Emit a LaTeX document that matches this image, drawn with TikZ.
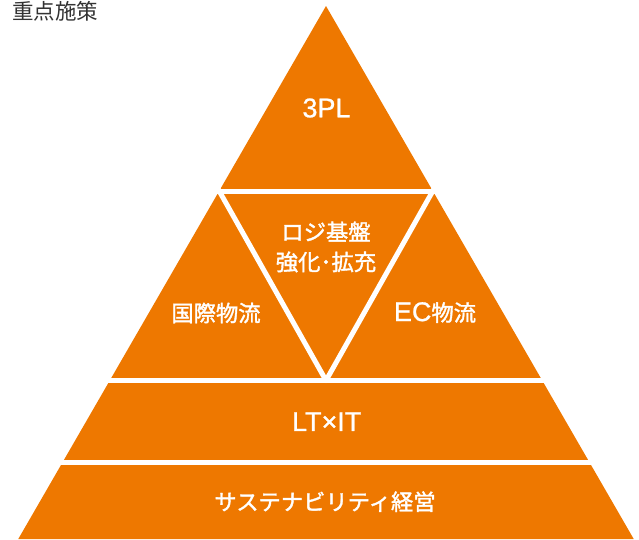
\documentclass[tikz,border=0pt]{standalone}
\usepackage{fontspec}
\usetikzlibrary{calc}
\setmainfont{Liberation Sans}
\newfontfamily\jpfont[FakeBold=1.6]{Noto Sans CJK JP}
\newfontfamily\jptitle{Noto Sans CJK JP}
\newfontfamily\latfont[FakeBold=0.8]{Liberation Sans}
\definecolor{kaki}{HTML}{EE7800}
\definecolor{sumi}{HTML}{333333}
\newcommand{\lat}[1]{{\latfont\fontsize{27}{30}\selectfont #1}}

\begin{document}
\begin{tikzpicture}[x=1pt,y=-1pt,
	gap/.style={white,line width=5pt,line join=round},
	stage/.style={text=white,font=\jpfont\fontsize{22.3}{30}\selectfont,align=center,inner sep=0pt}]
	\useasboundingbox (0,0) rectangle (639,539);
	\coordinate (apex) at (326,6);
	\coordinate (bl) at (18.27,539);
	\coordinate (br) at (633.73,539);
	\coordinate (ml) at (219.2,191);
	\coordinate (mr) at (432.8,191);
	\coordinate (mb) at (326,380.5);
	\fill[kaki] (apex)--(bl)--(br)--cycle;
	\draw[gap] (0,191)--(639,191);
	\draw[gap] (0,380.5)--(639,380.5);
	\draw[gap] (0,462)--(639,462);
	\draw[gap] ($(mb)!1.1!(ml)$)--(mb)--($(mb)!1.1!(mr)$);
	\node[text=sumi,font=\jptitle\fontsize{21.5}{24}\selectfont,anchor=west,inner sep=0pt] (title) at (12,11.5) {重点施策};
	\node[stage] (tpl) at (326.5,108) {\lat{3PL}};
	\node[stage] (logi) at (326,247) {ロジ基盤\\強化･拡充};
	\node[stage] (intl) at (216,313) {国際物流};
	\node[stage] (ec) at (435,312.5) {\lat{EC}物流};
	\node[stage] (ltit) at (326.7,421.7) {\lat{LT×IT}};
	\node[stage] (sus) at (325,501.7) {サステナビリティ経営};
\end{tikzpicture}
\end{document}
